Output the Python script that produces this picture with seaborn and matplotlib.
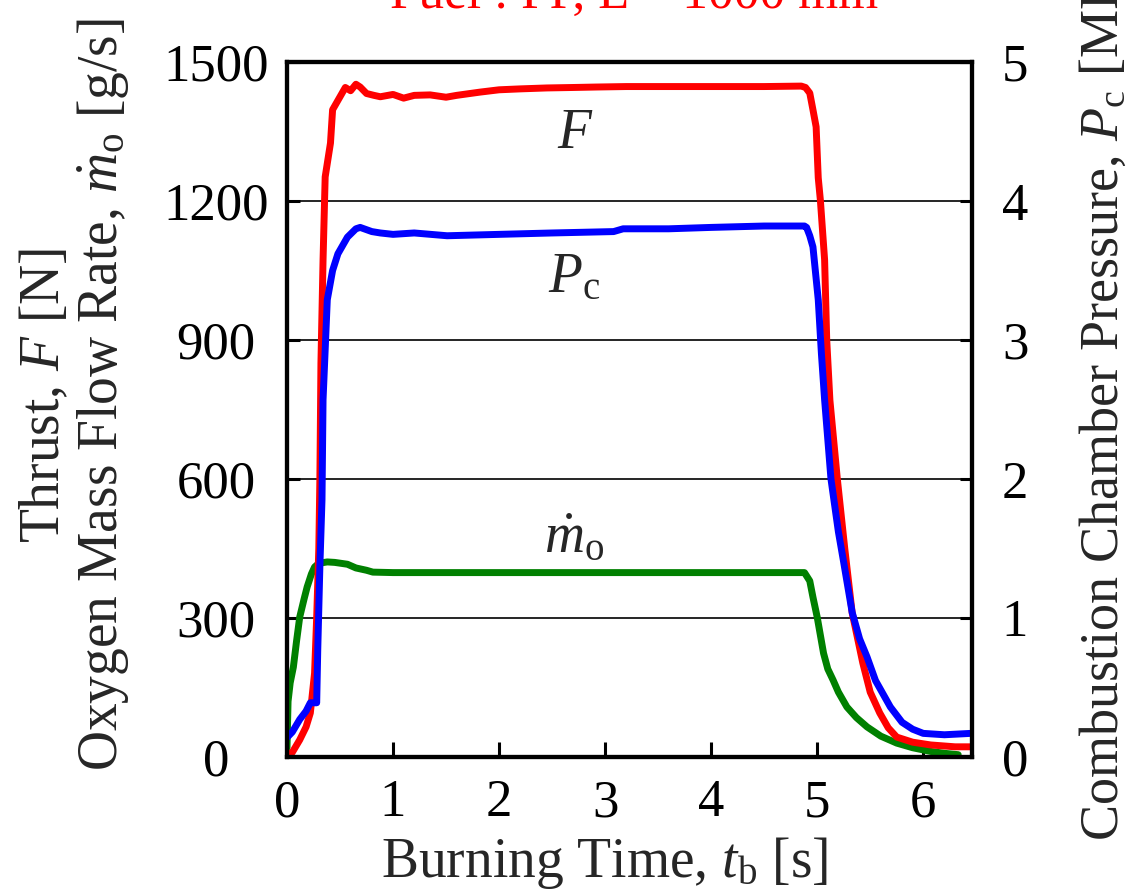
import matplotlib
matplotlib.use("Agg")
import matplotlib.pyplot as plt
import seaborn as sns

# ---- data ----
t_F = [0.00, 0.05, 0.12, 0.18, 0.22, 0.26, 0.28, 0.30, 0.31, 0.32, 0.34, 0.36, 0.41, 0.43,
       0.50, 0.55, 0.60, 0.65, 0.69, 0.75, 0.82, 0.88, 1.00, 1.10, 1.20, 1.35, 1.50, 1.60,
       1.82, 2.00, 2.20, 2.45, 2.70, 2.92, 3.20, 3.60, 4.00, 4.50, 4.85, 4.89, 4.93, 4.96,
       4.99, 5.01, 5.03, 5.07, 5.09, 5.12, 5.19, 5.26, 5.33, 5.43, 5.50, 5.59, 5.67, 5.75,
       5.90, 6.07, 6.30, 6.45]
F_N = [5, 10, 37, 65, 95, 181, 302, 450, 600, 850, 1073, 1252, 1325, 1397,
       1425, 1445, 1438, 1452, 1446, 1432, 1428, 1425, 1430, 1422, 1428, 1429, 1424, 1428,
       1435, 1440, 1442, 1444, 1445, 1446, 1447, 1447, 1447, 1447, 1448, 1445, 1433, 1397,
       1360, 1250, 1202, 1073, 900, 770, 600, 450, 311, 203, 140, 95, 63, 43,
       32, 26, 22, 22]

t_Pc = [0.00, 0.05, 0.12, 0.18, 0.22, 0.28, 0.29, 0.31, 0.33, 0.34, 0.38, 0.43, 0.48,
        0.57, 0.65, 0.69, 0.80, 0.88, 1.00, 1.20, 1.51, 2.00, 2.50, 3.08, 3.17, 3.60,
        4.00, 4.50, 4.88, 4.90, 4.93, 4.96, 5.01, 5.04, 5.07, 5.13, 5.20, 5.25, 5.33,
        5.40, 5.47, 5.55, 5.69, 5.80, 5.90, 6.00, 6.20, 6.45]
Pc_MPa = [0.14, 0.18, 0.27, 0.33, 0.39, 0.39, 0.77, 1.37, 1.85, 2.57, 3.29, 3.50, 3.62,
          3.74, 3.80, 3.81, 3.78, 3.77, 3.76, 3.77, 3.75, 3.76, 3.77, 3.78, 3.80, 3.80,
          3.81, 3.82, 3.82, 3.81, 3.75, 3.67, 3.29, 2.90, 2.57, 2.00, 1.62, 1.40, 1.04,
          0.85, 0.72, 0.55, 0.36, 0.25, 0.20, 0.17, 0.16, 0.17]

t_mo = [0.00, 0.01, 0.03, 0.06, 0.09, 0.12, 0.16, 0.19, 0.23, 0.26, 0.30, 0.38, 0.45,
        0.57, 0.65, 0.75, 0.81, 1.00, 2.00, 3.00, 4.00, 4.88, 4.93, 4.96, 5.00, 5.06,
        5.10, 5.15, 5.20, 5.28, 5.37, 5.47, 5.60, 5.75, 5.90, 6.07, 6.20, 6.33]
mo_gs = [20, 120, 160, 194, 250, 302, 340, 367, 395, 410, 418, 421, 420,
         416, 408, 403, 399, 398, 398, 398, 398, 398, 380, 345, 302, 224,
         190, 166, 140, 108, 85, 65, 45, 30, 20, 12, 8, 5]

x_ticks = [0, 1, 2, 3, 4, 5, 6]
left_ticks = [0, 300, 600, 900, 1200, 1500]
right_ticks = [0, 1, 2, 3, 4, 5]

title_text = "Fuel : PP, L = 1000 mm"
xlabel_text = r"Burning Time, $t_\mathrm{b}$ [s]"
left_label = "Thrust, $F$ [N]\nOxygen Mass Flow Rate, $\\dot{m}_\\mathrm{o}$ [g/s]"
right_label = r"Combustion Chamber Pressure, $P_\mathrm{c}$ [MPa]"

# ---- style ----
sns.set_theme(style="white")
plt.rcParams["font.family"] = ["Liberation Serif", "DejaVu Serif"]
plt.rcParams["mathtext.fontset"] = "custom"
plt.rcParams["mathtext.rm"] = "Liberation Serif"
plt.rcParams["mathtext.it"] = "Liberation Serif:italic"
plt.rcParams["mathtext.bf"] = "Liberation Serif:bold"

W, H = 1130, 894
fig = plt.figure(figsize=(W / 100, H / 100), dpi=100)
ax = fig.add_axes([287 / W, 1 - 757 / H, 685 / W, 695 / H])
ax2 = ax.twinx()

lw = 5.0
sns.lineplot(x=t_mo, y=mo_gs, ax=ax, color="#008000", lw=lw, estimator=None, sort=False)
sns.lineplot(x=t_F, y=F_N, ax=ax, color="#ff0000", lw=lw, estimator=None, sort=False)
sns.lineplot(x=t_Pc, y=Pc_MPa, ax=ax2, color="#0000ff", lw=lw, estimator=None, sort=False)

ax.set_xlim(0, 6.46)
ax.set_ylim(0, 1500)
ax2.set_ylim(0, 5)
ax.set_xticks(x_ticks)
ax.set_yticks(left_ticks)
ax2.set_yticks(right_ticks)
ax.set_xlabel("")
ax.set_ylabel("")
ax2.set_ylabel("")

ax.yaxis.grid(True, color="black", lw=1.2)
ax.xaxis.grid(False)
ax2.grid(False)
ax.set_axisbelow(True)

for a in (ax, ax2):
    for s in a.spines.values():
        s.set_color("black")
        s.set_linewidth(3)

fs_tick = 38
ax.tick_params(axis="x", direction="in", length=11, width=2.2, pad=16,
               labelsize=fs_tick, colors="black", top=False, bottom=True)
ax.tick_params(axis="y", direction="in", length=9, width=2.2, pad=51,
               labelsize=fs_tick, colors="black", left=True, right=False)
ax2.tick_params(axis="y", direction="in", length=9, width=2.2, pad=31,
                labelsize=fs_tick, colors="black", right=True)
for tk in ax.yaxis.get_major_ticks():
    tk.label1.set_horizontalalignment("center")
for tk in ax2.yaxis.get_major_ticks():
    tk.label2.set_horizontalalignment("center")

# curve annotations
ax.text(2.72, 1314, "$F$", fontsize=40, ha="center", va="baseline")
ax.text(2.71, 1004, r"$P_\mathrm{c}$", fontsize=40, ha="center", va="baseline")
ax.text(2.71, 440, r"$\dot{m}_\mathrm{o}$", fontsize=40, ha="center", va="baseline")

# labels
fig.text(634 / W, 1 - 8 / H, title_text, color="#ff0000", fontsize=37,
         ha="center", va="baseline")
fig.text(605 / W, 1 - 877 / H, xlabel_text, fontsize=40, ha="center", va="baseline")
fig.text(75 / W, 1 - 395 / H, left_label, fontsize=40, ha="center", va="center",
         rotation=90, linespacing=1.1, multialignment="center")
fig.text(1105 / W, 1 - 390 / H, right_label, fontsize=39, ha="center", va="center",
         rotation=90)

fig.savefig("out.png", dpi=100)
